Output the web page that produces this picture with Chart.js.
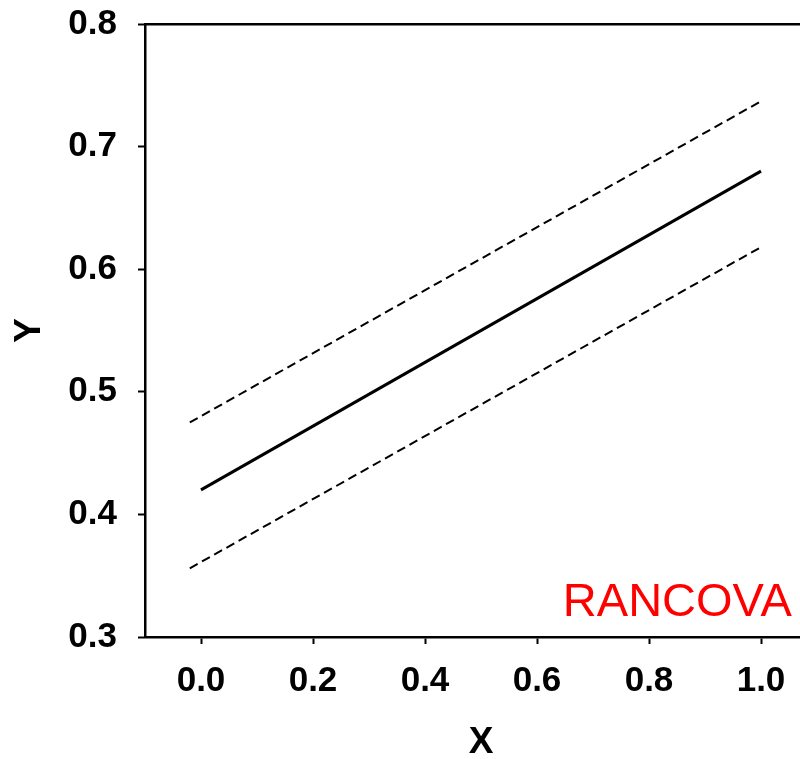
<!DOCTYPE html>
<html>
<head>
<meta charset="utf-8">
<script src="https://cdn.jsdelivr.net/npm/chart.js@4/dist/chart.umd.min.js"></script>
<style>
  html, body { margin: 0; padding: 0; background: #fff; overflow: hidden; }
  #wrap { width: 820px; height: 759px; }
</style>
</head>
<body>
<div id="wrap"><canvas id="myChart" width="820" height="759"></canvas></div>
<script>
// regression line and its band
let fitX = [0.0, 1.0];
let fitY = [0.42, 0.68];
let bandX = [-0.02, 1.0];
let upperY = [0.475, 0.737];
let lowerY = [0.356, 0.618];

let xTicks = [0.0, 0.2, 0.4, 0.6, 0.8, 1.0];
let yTicks = [0.3, 0.4, 0.5, 0.6, 0.7, 0.8];

let toPoints = (xs, ys) => xs.map((x, i) => ({ x: x, y: ys[i] }));

let fontName = '"Liberation Sans", Arial, Helvetica, sans-serif';

// red label in the lower right corner of the plot
let cornerLabel = {
    id: 'cornerLabel',
    afterDatasetsDraw(chart) {
        let ctx = chart.ctx;
        let x = chart.scales.x;
        let y = chart.scales.y;
        ctx.save();
        ctx.fillStyle = '#ff0000';
        ctx.font = '47px ' + fontName;
        ctx.textAlign = 'right';
        ctx.textBaseline = 'alphabetic';
        ctx.fillText('RANCOVA', x.getPixelForValue(1.055), y.getPixelForValue(0.3175));
        ctx.restore();
    }
};

let lineSet = (pts, dashed) => ({
    data: pts,
    showLine: true,
    borderColor: '#000',
    borderWidth: dashed ? 2 : 3,
    borderDash: dashed ? [9, 5] : [],
    pointRadius: 0,
    fill: false
});

// keep label overhang from pushing the plot area around
let noPad = (s) => { s.paddingTop = 0; s.paddingBottom = 0; s.paddingLeft = 0; s.paddingRight = 0; };

let ctx = document.getElementById('myChart').getContext('2d');

let myChart = new Chart(ctx, {
    type: 'scatter',
    data: {
        datasets: [
            lineSet(toPoints(bandX, upperY), true),
            lineSet(toPoints(fitX, fitY), false),
            lineSet(toPoints(bandX, lowerY), true)
        ]
    },
    options: {
        responsive: false,
        animation: false,
        devicePixelRatio: 1,
        layout: { padding: { left: 0, top: 24, right: 3, bottom: 0 } },
        plugins: { legend: { display: false }, tooltip: { enabled: false } },
        scales: {
            x: {
                type: 'linear',
                position: 'bottom',
                min: -0.1,
                max: 1.1,
                afterBuildTicks: (s) => { s.ticks = xTicks.map(v => ({ value: v })); },
                afterFit: (s) => { s.height = 122; noPad(s); },
                ticks: {
                    color: '#000',
                    padding: 16,
                    font: { family: fontName, size: 35, weight: 'bold' },
                    callback: (v) => Number(v).toFixed(1)
                },
                grid: { drawOnChartArea: false, tickLength: 7, tickColor: '#000', tickWidth: 2 },
                border: { color: '#000', width: 2.5 },
                title: {
                    display: true,
                    text: 'X',
                    color: '#000',
                    padding: 0,
                    font: { family: fontName, size: 37, weight: 'bold', lineHeight: 0.85 }
                }
            },
            xTop: {
                type: 'linear',
                position: 'top',
                min: -0.1,
                max: 1.1,
                afterFit: (s) => { s.height = 0; noPad(s); },
                ticks: { display: false },
                grid: { display: false, drawTicks: false },
                border: { color: '#000', width: 2.5 }
            },
            y: {
                type: 'linear',
                min: 0.3,
                max: 0.8,
                afterBuildTicks: (s) => { s.ticks = yTicks.map(v => ({ value: v })); },
                afterFit: (s) => { s.width = 145; noPad(s); },
                ticks: {
                    color: '#000',
                    padding: 21,
                    font: { family: fontName, size: 35, weight: 'bold' },
                    callback: (v) => Number(v).toFixed(1)
                },
                grid: { drawOnChartArea: false, tickLength: 7, tickColor: '#000', tickWidth: 2 },
                border: { color: '#000', width: 2.5 },
                title: {
                    display: true,
                    text: 'Y',
                    color: '#000',
                    padding: { top: 8, bottom: 0 },
                    font: { family: fontName, size: 37, weight: 'bold' }
                }
            }
        }
    },
    plugins: [cornerLabel]
});
</script>
</body>
</html>
